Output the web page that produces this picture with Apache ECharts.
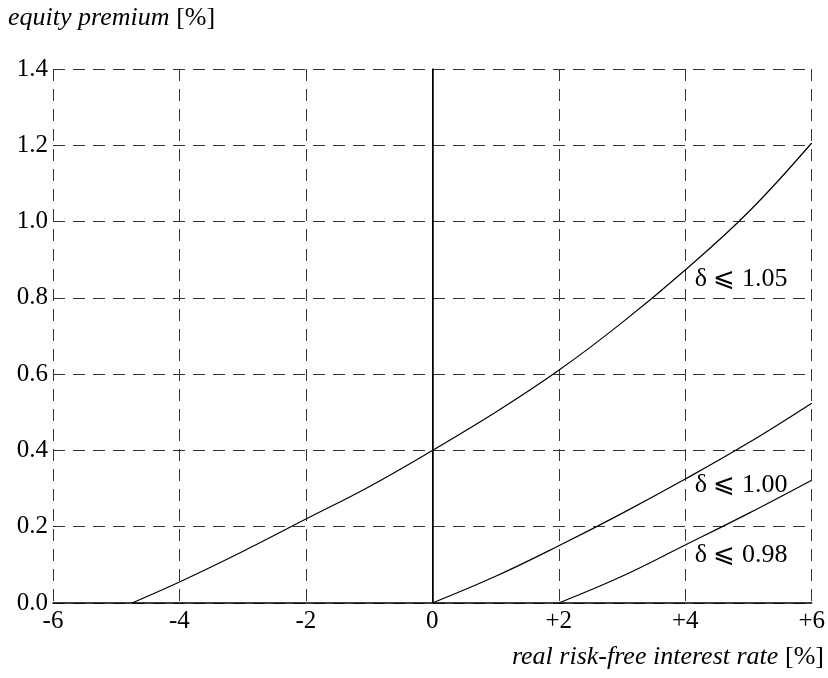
<!DOCTYPE html>
<html><head><meta charset="utf-8">
<script src="https://cdn.jsdelivr.net/npm/echarts@6/dist/echarts.min.js"></script>
<style>html,body{margin:0;padding:0;background:#fff}#c{width:828px;height:678px}</style>
</head><body><div id="c"></div>
<script>
const xTicks = [-6, -4, -2, 0, 2, 4, 6];
const yTicks = [0, 0.2, 0.4, 0.6, 0.8, 1.0, 1.2, 1.4];
const curve105 = [[-4.75,0],[-4,0.055],[-3,0.135],[-2,0.22],[-1,0.305],[0,0.40],[1,0.50],[2,0.61],[3,0.735],[4,0.873],[5,1.025],[6,1.206]];
const curve100 = [[0,0],[1,0.07],[2,0.15],[3,0.235],[4,0.325],[5,0.42],[6,0.524]];
const curve098 = [[2,0],[3,0.07],[4,0.152],[5,0.235],[6,0.322]];
const seriesNames = ['δ ⩽ 1.05', 'δ ⩽ 1.00', 'δ ⩽ 0.98'];
const labelAt = [[4.15, 0.85], [4.15, 0.31], [4.15, 0.125]];

const font = '"Liberation Serif", "DejaVu Serif", serif';
const chart = echarts.init(document.getElementById('c'));
const mk = (name, data, lp) => ({
  name, type: 'line', data, smooth: 0.4, symbol: 'none',
  lineStyle: {color: '#000', width: 1.2}, silent: true,
  markPoint: {symbol: 'circle', symbolSize: 0, data: [{coord: lp, value: name}],
    label: {show: true, position: 'right', distance: 0, formatter: name, color: '#000', fontFamily: font, fontSize: 26}}
});
chart.setOption({
  animation: false,
  grid: {left: 53, right: 15, top: 69, bottom: 75},
  xAxis: {type: 'value', min: xTicks[0], max: xTicks[xTicks.length-1], interval: 2,
    axisLine: {lineStyle: {color: '#000', width: 1.5}}, axisTick: {show: false},
    axisLabel: {color: '#000', fontFamily: font, fontSize: 25, margin: 6,
      formatter: v => v > 0 ? '+' + v : String(v)},
    splitLine: {show: true, lineStyle: {color: '#333', type: [12, 8], width: 1}}},
  yAxis: {type: 'value', min: yTicks[0], max: yTicks[yTicks.length-1], interval: 0.2,
    axisLine: {show: true, lineStyle: {color: '#000', width: 1.5}}, axisTick: {show: false},
    axisLabel: {color: '#000', fontFamily: font, fontSize: 25, margin: 5, formatter: v => v.toFixed(1)},
    splitLine: {show: true, lineStyle: {color: '#333', type: [12, 8], width: 1}}},
  graphic: [
    {type: 'text', left: 8, top: 5, style: {text: '{i|equity premium}  {n|[%]}',
      rich: {i: {fontFamily: font, fontStyle: 'italic', fontSize: 26, fill: '#000'}, n: {fontFamily: font, fontSize: 26, fill: '#000'}}}},
    {type: 'text', right: 4, top: 644, style: {text: '{i|real risk-free interest rate}  {n|[%]}',
      rich: {i: {fontFamily: font, fontStyle: 'italic', fontSize: 26, fill: '#000'}, n: {fontFamily: font, fontSize: 26, fill: '#000'}}}}
  ],
  series: [
    mk(seriesNames[0], curve105, labelAt[0]),
    mk(seriesNames[1], curve100, labelAt[1]),
    mk(seriesNames[2], curve098, labelAt[2]),
    {type: 'line', data: [], silent: true,
      markLine: {symbol: 'none', silent: true, label: {show: false},
        lineStyle: {color: '#000', type: 'solid', width: 1}, data: [{xAxis: 0}]}}
  ]
});
</script></body></html>
